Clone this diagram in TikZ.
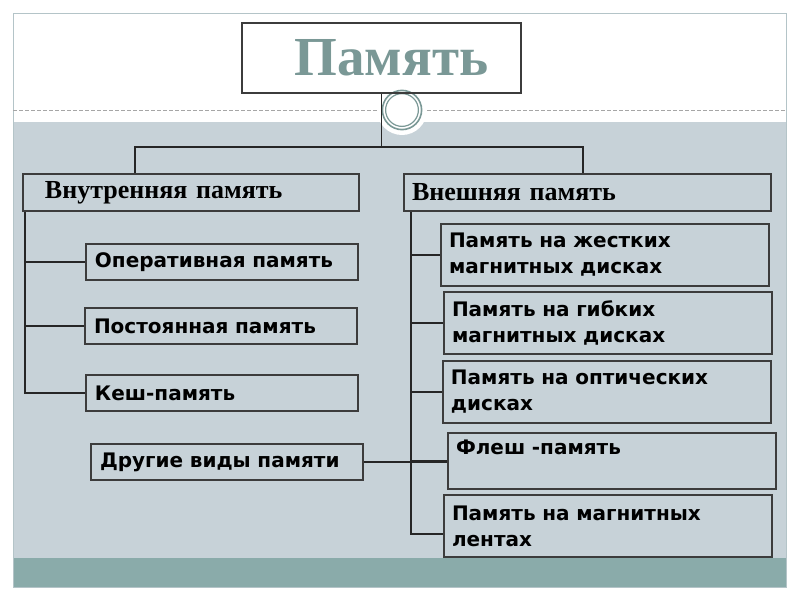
\documentclass[tikz,border=0pt]{standalone}
\usepackage{fontspec}
\setmainfont{Liberation Serif}
\newfontfamily\leaffont{DejaVu Sans}
\usepackage{tikz}
\usetikzlibrary{positioning}

\definecolor{panelgray}{HTML}{C7D2D8}
\definecolor{bandteal}{HTML}{8AABAA}
\definecolor{titleteal}{HTML}{7A9896}
\definecolor{boxline}{HTML}{3C3C3C}
\definecolor{framegray}{HTML}{B4C4C8}

\begin{document}
\begin{tikzpicture}[x=0.5pt, y=-0.5pt,
	basic/.style   = {draw=boxline, line width=1pt, rectangle, anchor=north west},
	root/.style    = {basic, minimum width=139.5pt, minimum height=35pt, text=titleteal, font=\bfseries\fontsize{27.5}{30}\selectfont},
	level 2/.style = {basic, align=left, minimum height=18.5pt, inner xsep=4pt, font=\bfseries\fontsize{13}{15}\selectfont},
	level 3/.style = {basic, align=left, text width=127pt, inner xsep=4.5pt, minimum height=18pt, font=\leaffont\bfseries\fontsize{10}{13}\selectfont},
	level 4/.style = {basic, align=left, text width=156pt, inner xsep=4pt, minimum height=31pt, font=\leaffont\bfseries\fontsize{10}{13}\selectfont},
	conn/.style    = {draw=black!85, line width=0.9pt}]

	\useasboundingbox (0,0) rectangle (800,600);

	% slide background
	\fill[panelgray] (13,122) rectangle (786,558);
	\fill[bandteal] (13,558) rectangle (786,587);
	\draw[framegray, line width=0.5pt] (13,13) rectangle (786,587);
	\draw[black!35, line width=0.4pt, dash pattern=on 2pt off 1pt] (13,110) -- (786,110);
	\fill[white] (402,110) circle [radius=12.5pt];
	\draw[titleteal, line width=0.8pt] (402,110) circle [radius=9.8pt];
	\draw[titleteal, line width=0.6pt] (402,110) circle [radius=8.2pt];

	% root and the first level
	\node[root] (root) at (241,22) {\hspace*{10pt}Память};
	\node[level 2, inner xsep=11pt, text width=146pt] (c1) at (22,173) {Внутренняя память};
	\node[level 2, text width=175.5pt] (c2) at (403,173) {Внешняя память};

	% inner memory
	\node[level 3] (c11) at (85,243) {Оперативная память};
	\node[level 3] (c12) at (84,307) {Постоянная память};
	\node[level 3] (c13) at (85,374) {Кеш-память};
	\node[level 3] (c14) at (90,443) {Другие виды памяти};

	% outer memory
	\node[level 4] (c21) at (440,223) {Память на жестких\\магнитных дисках};
	\node[level 4] (c22) at (443,291) {Память на гибких\\магнитных дисках};
	\node[level 4] (c23) at (442,360) {Память на оптических\\дисках};
	\node[level 4, minimum height=28pt] (c24) at (447,432) {Флеш -память\\[-3pt]\strut};
	\node[level 4] (c25) at (443,494) {Память на магнитных\\лентах};

	% lines from the root to the first level
	\coordinate (j1) at (135,147);
	\coordinate (j2) at (583,147);
	\draw[conn] (root.south) -- (root.south |- j1);
	\draw[conn] (c1.north -| j1) -- (j1) -- (j2) -- (c2.north -| j2);

	% lines from each first level node to its children
	\foreach \value in {1,2,3}
	\draw[conn] ([xshift=1.5pt]c1.south west) |- (c1\value.west);

	\foreach \value in {1,...,4}
	\draw[conn] ([xshift=4pt]c2.south west) |- (c2\value.west);
	\draw[conn] ([xshift=4pt]c2.south west) |- ([yshift=-4pt]c25.west);

	\draw[conn] (c14.east) -- (c14.east -| c24.west);

\end{tikzpicture}
\end{document}
